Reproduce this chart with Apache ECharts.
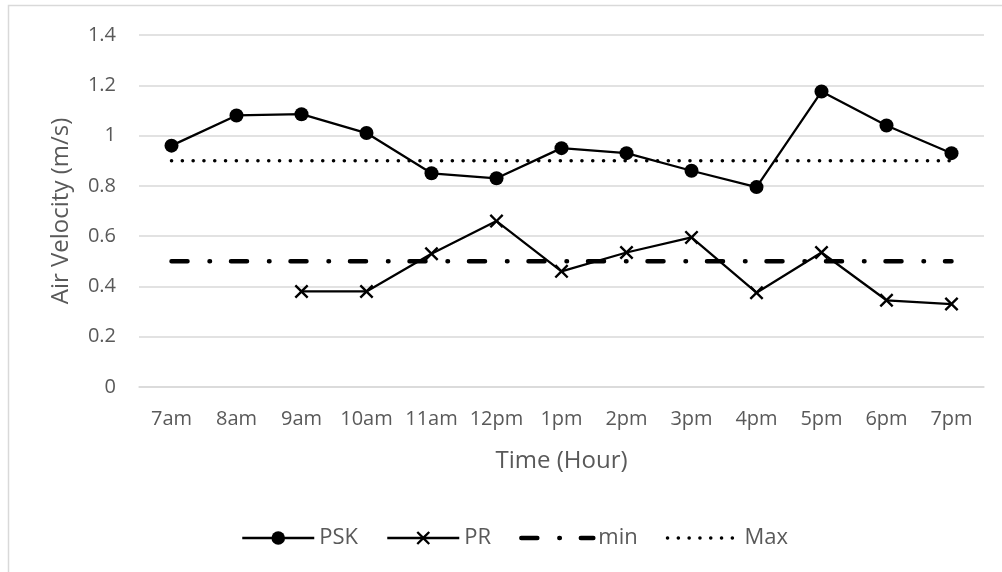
<!DOCTYPE html>
<html>
<head>
<meta charset="utf-8">
<script src="https://cdn.jsdelivr.net/npm/echarts@6/dist/echarts.min.js"></script>
<style>html,body{margin:0;padding:0;background:#fff}#c{width:1002px;height:572px}</style>
</head>
<body>
<div id="c"></div>
<script>
var categories = ['7am','8am','9am','10am','11am','12pm','1pm','2pm','3pm','4pm','5pm','6pm','7pm'];
var psk = [0.96, 1.08, 1.085, 1.01, 0.85, 0.83, 0.95, 0.93, 0.86, 0.795, 1.175, 1.04, 0.93];
var pr = [null, null, 0.38, 0.38, 0.53, 0.66, 0.46, 0.535, 0.595, 0.375, 0.535, 0.345, 0.33];
var minVals = [0.5,0.5,0.5,0.5,0.5,0.5,0.5,0.5,0.5,0.5,0.5,0.5,0.5];
var maxVals = [0.9,0.9,0.9,0.9,0.9,0.9,0.9,0.9,0.9,0.9,0.9,0.9,0.9];
var yTicks = {min: 0, max: 1.4, interval: 0.2};

var FONT = '"Open Sans", sans-serif';
var TXT = '#595959';
var crossPath = 'path://M0,1.2L1.2,0L5,3.8L8.8,0L10,1.2L6.2,5L10,8.8L8.8,10L5,6.2L1.2,10L0,8.8L3.8,5Z';
var clear = 'rgba(0,0,0,0)';
var minDash = [16, 22, 0.5, 21];
var maxDash = [0.1, 10.7];

var chart = echarts.init(document.getElementById('c'), null, {renderer: 'canvas'});
chart.setOption({
  animation: false,
  backgroundColor: '#fff',
  graphic: [{
    type: 'rect', silent: true, z: -10,
    shape: {x: 8.5, y: 5.5, width: 1200, height: 800},
    style: {fill: 'none', stroke: '#d9d9d9', lineWidth: 1.5}
  }],
  grid: {left: 139, right: 18, top: 35, bottom: 185, containLabel: false},
  legend: {
    left: 236, top: 522,
    itemWidth: 72, itemHeight: 17, itemGap: 28,
    textStyle: {color: TXT, fontFamily: FONT, fontSize: 22},
    data: [
      {name: 'PSK', lineStyle: {width: 2.5}},
      {name: 'PR', lineStyle: {width: 2.5}},
      {name: 'min', lineStyle: {width: 4.5, type: minDash, cap: 'round'}},
      {name: 'Max', lineStyle: {width: 3.5, type: maxDash, cap: 'round'}}
    ]
  },
  xAxis: {
    type: 'category', data: categories, boundaryGap: true,
    name: 'Time (Hour)', nameLocation: 'middle', nameGap: 62,
    nameTextStyle: {color: TXT, fontFamily: FONT, fontSize: 24},
    axisLine: {show: true, lineStyle: {color: '#d9d9d9', width: 1.5}},
    axisTick: {show: false},
    axisLabel: {color: TXT, fontFamily: FONT, fontSize: 20, margin: 22, interval: 0}
  },
  yAxis: {
    type: 'value', min: yTicks.min, max: yTicks.max, interval: yTicks.interval,
    name: 'Air Velocity (m/s)', nameLocation: 'middle', nameGap: 66,
    nameTextStyle: {color: TXT, fontFamily: FONT, fontSize: 24},
    axisLine: {show: false}, axisTick: {show: false},
    splitLine: {lineStyle: {color: '#d9d9d9', width: 1.5}},
    axisLabel: {color: TXT, fontFamily: FONT, fontSize: 20, margin: 23,
      formatter: function(v){ return String(Math.round(v*10)/10); }}
  },
  series: [
    {name: 'PSK', type: 'line', data: psk, symbol: 'circle', symbolSize: 14,
     itemStyle: {color: '#000'}, lineStyle: {color: '#000', width: 2.25}, z: 3},
    {name: 'PR', type: 'line', data: pr, symbol: crossPath, symbolSize: 14,
     itemStyle: {color: '#000'}, lineStyle: {color: '#000', width: 2.25}, z: 3},
    {name: 'min', type: 'line', data: minVals, symbol: 'none', showSymbol: false,
     itemStyle: {color: clear, borderWidth: 0},
     lineStyle: {color: '#000', width: 4.5, type: minDash, cap: 'round'}, z: 4},
    {name: 'Max', type: 'line', data: maxVals, symbol: 'none', showSymbol: false,
     itemStyle: {color: clear, borderWidth: 0},
     lineStyle: {color: '#000', width: 3.5, type: maxDash, cap: 'round'}, z: 4}
  ]
});
</script>
</body>
</html>
